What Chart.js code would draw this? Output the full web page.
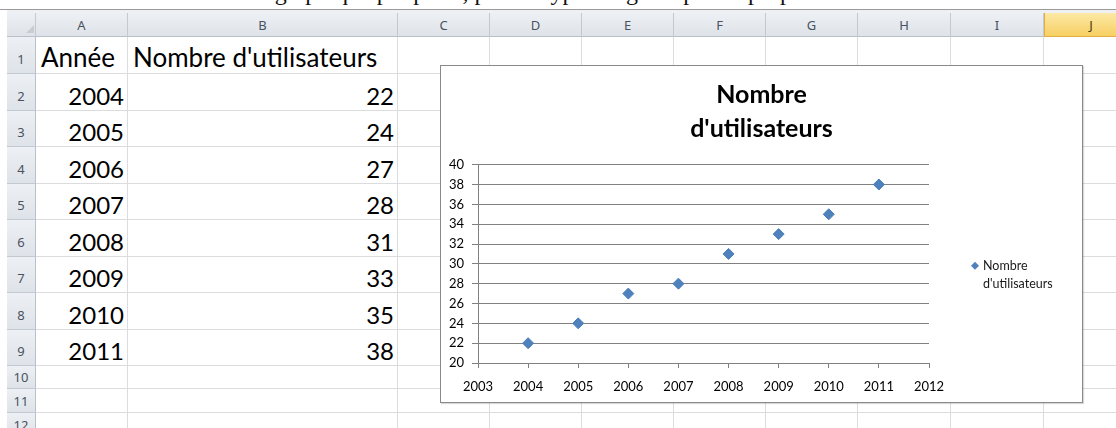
<!DOCTYPE html>
<html lang="fr">
<head>
<meta charset="utf-8">
<script src="https://cdn.jsdelivr.net/npm/chart.js@4/dist/chart.umd.min.js"></script>
<style>
  html, body { margin: 0; padding: 0; }
  body { width: 1116px; height: 428px; overflow: hidden; background: #fff; position: relative; font-family: Lato, "Open Sans", sans-serif; }
  .abs { position: absolute; box-sizing: border-box; }
  .hdr { background: linear-gradient(#EDF0F4, #DEE3E9); color: #4a5260; font-family: "Noto Sans", sans-serif; font-size: 13px; display: flex; align-items: center; justify-content: center; }
  .cell { border-right: 1px solid #DADCDD; border-bottom: 1px solid #DADCDD; background: #fff; }
  .txt { font-size: 24px; line-height: 1; color: #000; white-space: nowrap; display: flex; align-items: flex-end; padding-bottom: 3px; }
  #chartBox { left: 440px; top: 65px; width: 643px; height: 338px; border: 1px solid #8A8A8A; background: #fff; box-shadow: 1px 1px 1px rgba(0,0,0,0.15); }
  #chartWrap { position: absolute; left: 0; top: 0; width: 641px; height: 336px; }
  #topText { left: 168px; top: -21px; font-family: "Liberation Serif", serif; font-size: 24px; white-space: nowrap; color: #111; }
</style>
</head>
<body>
<div id="sheet"></div>
<div id="chartBox" class="abs"><div id="chartWrap"><canvas id="c"></canvas></div></div>
<script>
// ---- data ----
const years = [2004, 2005, 2006, 2007, 2008, 2009, 2010, 2011];
const users = [22, 24, 27, 28, 31, 33, 35, 38];
const headerA = 'Année';
const headerB = "Nombre d'utilisateurs";
const titleLines = ['Nombre', "d'utilisateurs"];
const xRange = [2003, 2012];
const yRange = [20, 40];
const yStep = 2;
const colLetters = ['A','B','C','D','E','F','G','H','I','J'];

// ---- spreadsheet grid ----
const sheet = document.getElementById('sheet');
function box(cls, l, t, w, h, css, text) {
  const d = document.createElement('div');
  d.className = 'abs ' + cls;
  d.style.left = l + 'px'; d.style.top = t + 'px';
  d.style.width = w + 'px'; d.style.height = h + 'px';
  if (css) d.style.cssText += css;
  if (text !== undefined) d.textContent = text;
  sheet.appendChild(d);
  return d;
}
// top strip with clipped document text
box('', 0, 0, 1116, 10, 'overflow:hidden;background:#fff;');
const tt = document.createElement('div');
tt.className = 'abs'; tt.id = 'topText';
tt.textContent = 'Choisir un graphique par point, puis le type nuage de points proposé';
sheet.lastChild.appendChild(tt);
box('', 0, 9, 1116, 1, 'background:#9a9a9a;');
box('', 7, 10, 1109, 3, 'background:#EEF0F3;');

const colX = [7, 36, 128, 398, 490, 582, 674, 766, 858, 951, 1044, 1137];
const rowY = [13, 37, 74, 111, 147, 184, 220, 257, 293, 330, 366, 389, 413, 437];

// column header row
box('hdr', colX[0], rowY[0], colX[1]-colX[0], rowY[1]-rowY[0], 'border-right:1px solid #C3C9D0;border-bottom:1px solid #B9C0C8;');
box('', 26, 25, 0, 0, 'border-left:8px solid transparent;border-bottom:8px solid #C9CDD2;');
for (let c = 0; c < colLetters.length; c++) {
  const sel = colLetters[c] === 'J';
  box('hdr', colX[c+1], rowY[0], colX[c+2]-colX[c+1], rowY[1]-rowY[0],
    sel ? 'background:linear-gradient(#FCE9A6,#F7CF62);border-left:1px solid #E3AE46;border-bottom:1px solid #E3AE46;color:#4a3a10;'
        : 'border-right:1px solid #C3C9D0;border-bottom:1px solid #B9C0C8;', colLetters[c]);
}
// rows
const nRows = rowY.length - 2;
for (let r = 0; r < nRows; r++) {
  const t = rowY[r+1], h = rowY[r+2] - rowY[r+1];
  box('hdr', colX[0], t, colX[1]-colX[0], h,
    'border-right:1px solid #B9C0C8;border-bottom:1px solid #C3C9D0;align-items:flex-end;padding-bottom:' + (h > 30 ? 5 : 2) + 'px;', String(r+1));
  for (let c = 1; c < colX.length - 1; c++) {
    box('cell', colX[c], t, colX[c+1]-colX[c], h);
  }
}
// cell texts
function cellText(col, row, text, align, extra) {
  const l = colX[col], w = colX[col+1] - colX[col];
  const t = rowY[row], h = rowY[row+1] - rowY[row];
  box('txt', l, t, w, h, 'justify-content:' + (align === 'right' ? 'flex-end;padding-right:4px;' : 'flex-start;padding-left:5px;') + 'overflow:visible;' + (extra || ''), text);
}
cellText(1, 1, headerA, 'left', 'font-size:26px;padding-bottom:4px;');
cellText(2, 1, headerB, 'left', 'font-size:26px;padding-bottom:4px;');
years.forEach((y, i) => {
  cellText(1, i + 2, String(y), 'right');
  cellText(2, i + 2, String(users[i]), 'right');
});

// ---- chart ----
const sideLegend = {
  id: 'sideLegend',
  afterDraw(chart) {
    const ctx = chart.ctx;
    const ds = chart.data.datasets[0];
    const area = chart.chartArea;
    const x = area.right + 46;
    const y = (area.top + area.bottom) / 2 + 2;
    ctx.save();
    ctx.fillStyle = ds.backgroundColor;
    ctx.beginPath();
    const r = 4;
    ctx.moveTo(x, y - r); ctx.lineTo(x + r, y); ctx.lineTo(x, y + r); ctx.lineTo(x - r, y); ctx.closePath();
    ctx.fill();
    ctx.fillStyle = '#1a1a1a';
    ctx.font = '12.5px Lato, "Open Sans", sans-serif';
    ctx.textBaseline = 'middle';
    ctx.textAlign = 'left';
    const lines = ds.label.split(' ');
    lines.forEach((ln, i) => ctx.fillText(ln, x + 8, y + i * 18));
    ctx.restore();
  }
};

new Chart(document.getElementById('c'), {
  type: 'scatter',
  data: {
    datasets: [{
      label: headerB,
      data: years.map((x, i) => ({ x: x, y: users[i] })),
      pointStyle: 'rectRot',
      pointRadius: 5.5,
      pointHoverRadius: 5.5,
      backgroundColor: '#4F81BD',
      borderColor: '#4A7EBB',
      borderWidth: 1
    }]
  },
  options: {
    animation: false,
    responsive: true,
    maintainAspectRatio: false,
    layout: { padding: 0 },
    events: [],
    plugins: {
      legend: { display: false },
      tooltip: { enabled: false },
      title: {
        display: true,
        text: titleLines,
        color: '#000',
        font: { family: 'Lato', size: 25, weight: 'bold', lineHeight: 34 / 25 },
        padding: { top: 12, bottom: 18.7 }
      }
    },
    scales: {
      x: {
        type: 'linear',
        min: xRange[0], max: xRange[1],
        ticks: { stepSize: 1, autoSkip: false, maxRotation: 0, color: '#000', padding: 11,
                 font: { family: 'Lato', size: 13 }, callback: v => String(v) },
        grid: { drawOnChartArea: false, drawTicks: true, tickLength: 5, color: '#808080' },
        border: { color: '#808080' },
        afterFit: s => { s.height = 39; }
      },
      y: {
        min: yRange[0], max: yRange[1],
        ticks: { stepSize: yStep, color: '#000', padding: 8, font: { family: 'Lato', size: 13 } },
        grid: { color: '#808080', tickLength: 6 },
        border: { color: '#808080' },
        afterFit: s => { s.width = 37; }
      },
      yr: {
        type: 'linear',
        position: 'right',
        display: true,
        ticks: { display: false },
        grid: { display: false, drawTicks: false },
        border: { display: false },
        afterFit: s => { s.width = 153; }
      }
    }
  },
  plugins: [sideLegend]
});
</script>
</body>
</html>
